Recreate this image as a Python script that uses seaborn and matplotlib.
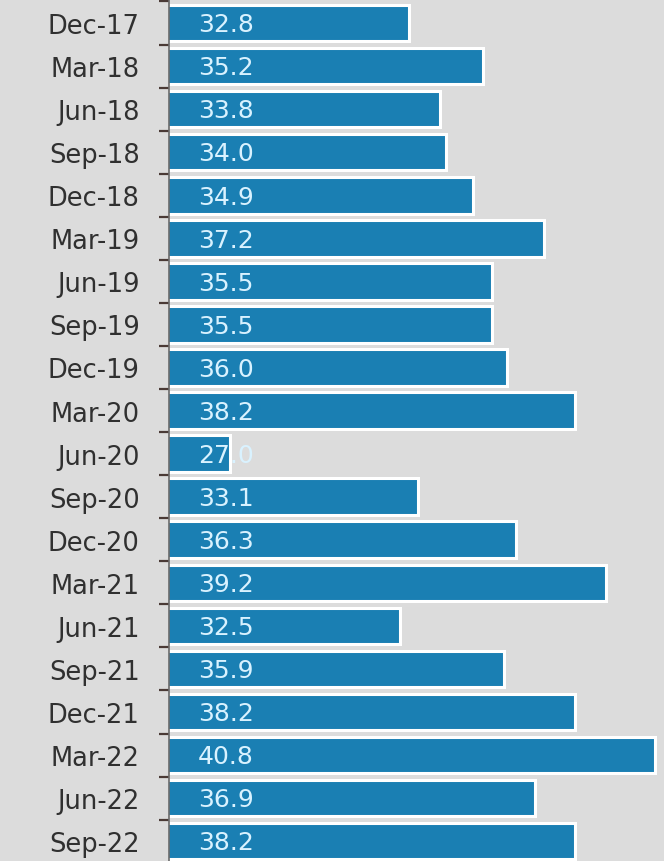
import matplotlib
matplotlib.use("Agg")
import matplotlib.pyplot as plt
from matplotlib.ticker import FixedLocator, NullFormatter
import seaborn as sns
import pandas as pd
import numpy as np

quarters = ["Dec-17", "Mar-18", "Jun-18", "Sep-18", "Dec-18", "Mar-19", "Jun-19",
            "Sep-19", "Dec-19", "Mar-20", "Jun-20", "Sep-20", "Dec-20", "Mar-21",
            "Jun-21", "Sep-21", "Dec-21", "Mar-22", "Jun-22", "Sep-22"]
values = [32.8, 35.2, 33.8, 34.0, 34.9, 37.2, 35.5, 35.5, 36.0, 38.2,
          27.0, 33.1, 36.3, 39.2, 32.5, 35.9, 38.2, 40.8, 36.9, 38.2]

df = pd.DataFrame({"quarter": quarters, "value": values})

sns.set_theme(style="white")
plt.rcParams["font.family"] = ["DejaVu Sans"]

bg = "#dcdcdc"
bar_color = "#1a7fb3"

fig = plt.figure(figsize=(6.64, 8.62), dpi=100, facecolor=bg)
ax = fig.add_axes([169 / 664, 0.0, 1 - 169 / 664, 1.0])
ax.set_facecolor(bg)

x0 = 25.0
sns.barplot(data=df, x="value", y="quarter", orient="h", color=bar_color,
            saturation=1, width=0.85, edgecolor="white", linewidth=2.2, ax=ax)

# Bars start at the left limit of the value axis
ax.set_xlim(x0, 41.1)
ax.set_ylim(19.46, -0.557)

for i, v in enumerate(values):
    ax.text(x0 + 0.95, i + 0.03, f"{v:.1f}", color="#d9f2ff", fontsize=18,
            va="center", ha="left")

ax.set_xlabel("")
ax.set_ylabel("")
ax.set_xticks([])
ax.tick_params(axis="y", which="major", length=0, labelsize=18.5,
               labelcolor="#303030", pad=21)
ax.yaxis.set_minor_locator(FixedLocator(np.arange(-0.5, len(quarters), 1.0)))
ax.yaxis.set_minor_formatter(NullFormatter())
ax.tick_params(axis="y", which="minor", length=7, width=1.6, color="#4a3a36",
               left=True)

for side in ["top", "right", "bottom"]:
    ax.spines[side].set_visible(False)
ax.spines["left"].set_color("#6b6b6b")
ax.spines["left"].set_linewidth(1.2)

fig.savefig("out.png", dpi=100, facecolor=bg)
